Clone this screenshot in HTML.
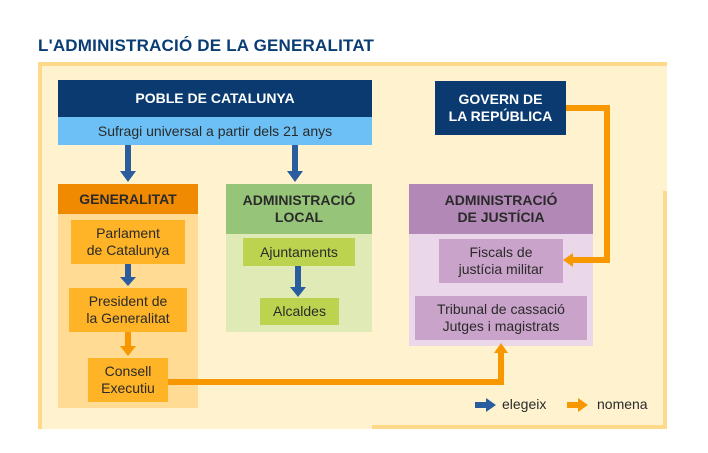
<!DOCTYPE html>
<html><head><meta charset="utf-8"><style>
*{margin:0;padding:0;box-sizing:border-box}
body{width:708px;height:453px;background:#fff;position:relative;overflow:hidden;font-family:"Liberation Sans","DejaVu Sans",sans-serif}
.a{position:absolute}
.c{display:flex;align-items:center;justify-content:center;text-align:center;line-height:1.2}
.t{color:#2a2a2a;font-size:14px}
.h{color:#2a2a2a;font-size:14px;font-weight:bold}
.w{color:#fff;font-size:14px;font-weight:bold}
</style></head><body>
<div class="a" style="left:38px;top:36px;font-size:17px;font-weight:bold;color:#0a3d73;letter-spacing:0.2px">L'ADMINISTRACIÓ DE LA GENERALITAT</div>
<div class="a" style="left:38px;top:62px;width:629px;height:367px;background:#fff2cf"></div>
<div class="a" style="left:38px;top:62px;width:629px;height:4px;background:#ffd98a"></div>
<div class="a" style="left:38px;top:62px;width:4px;height:367px;background:#ffd98a"></div>
<div class="a" style="left:663px;top:191px;width:4px;height:238px;background:#ffd98a"></div>
<div class="a" style="left:372px;top:425px;width:295px;height:4px;background:#ffd98a"></div>

<div class="a c w" style="left:58px;top:80px;width:314px;height:37px;background:#0a3a70">POBLE DE CATALUNYA</div>
<div class="a c t" style="left:58px;top:117px;width:314px;height:28px;background:#6cc0f5">Sufragi universal a partir dels 21 anys</div>

<div class="a c h" style="left:58px;top:184px;width:140px;height:30px;background:#f08a00">GENERALITAT</div>
<div class="a" style="left:58px;top:214px;width:140px;height:194px;background:#ffdb94"></div>
<div class="a c t" style="left:71px;top:220px;width:114px;height:44px;background:#ffb326">Parlament<br>de Catalunya</div>
<div class="a c t" style="left:69px;top:288px;width:118px;height:44px;background:#ffb326">President de<br>la Generalitat</div>
<div class="a c t" style="left:88px;top:358px;width:80px;height:44px;background:#ffb326">Consell<br>Executiu</div>

<div class="a c h" style="left:226px;top:184px;width:146px;height:50px;background:#96c57a">ADMINISTRACIÓ<br>LOCAL</div>
<div class="a" style="left:226px;top:234px;width:146px;height:98px;background:#dfeab7"></div>
<div class="a c t" style="left:243px;top:238px;width:112px;height:28px;background:#bcd34f">Ajuntaments</div>
<div class="a c t" style="left:260px;top:298px;width:79px;height:27px;background:#bcd34f">Alcaldes</div>

<div class="a c w" style="left:435px;top:81px;width:131px;height:54px;background:#0a3a70">GOVERN DE<br>LA REPÚBLICA</div>

<div class="a c h" style="left:409px;top:184px;width:184px;height:50px;background:#b288b6">ADMINISTRACIÓ<br>DE JUSTÍCIA</div>
<div class="a" style="left:409px;top:234px;width:184px;height:112px;background:#ead7ea"></div>
<div class="a c t" style="left:439px;top:239px;width:124px;height:44px;background:#caa3cb">Fiscals de<br>justícia militar</div>
<div class="a c t" style="left:415px;top:296px;width:172px;height:44px;background:#caa3cb">Tribunal de cassació<br>Jutges i magistrats</div>

<svg class="a" style="left:0;top:0" width="708" height="453">
<g fill="#2a5d9e">
<rect x="125" y="145" width="6" height="27"/><polygon points="120,171 136,171 128,182"/>
<rect x="292" y="145" width="6" height="27"/><polygon points="287,171 303,171 295,182"/>
<rect x="125" y="264" width="6" height="14"/><polygon points="120,277 136,277 128,286"/>
<rect x="295" y="266" width="6" height="22"/><polygon points="290,287 306,287 298,297"/>
<rect x="475" y="402" width="12" height="6"/><polygon points="486,398 486,412 496,405"/>
</g>
<g fill="#f79800">
<rect x="125" y="332" width="6" height="15"/><polygon points="120,346 136,346 128,356"/>
<rect x="168" y="379" width="336" height="6"/><rect x="498" y="352" width="6" height="33"/><polygon points="494,353 508,353 501,343"/>
<rect x="566" y="105" width="44" height="6"/><rect x="604" y="105" width="6" height="158"/><rect x="572" y="257" width="38" height="6"/><polygon points="573,253 573,267 563,260"/>
<rect x="567" y="402" width="12" height="6"/><polygon points="578,398 578,412 588,405"/>
</g>
</svg>
<div class="a t" style="left:502px;top:396px;font-size:14px">elegeix</div>
<div class="a t" style="left:597px;top:396px;font-size:14px">nomena</div>
</body></html>
